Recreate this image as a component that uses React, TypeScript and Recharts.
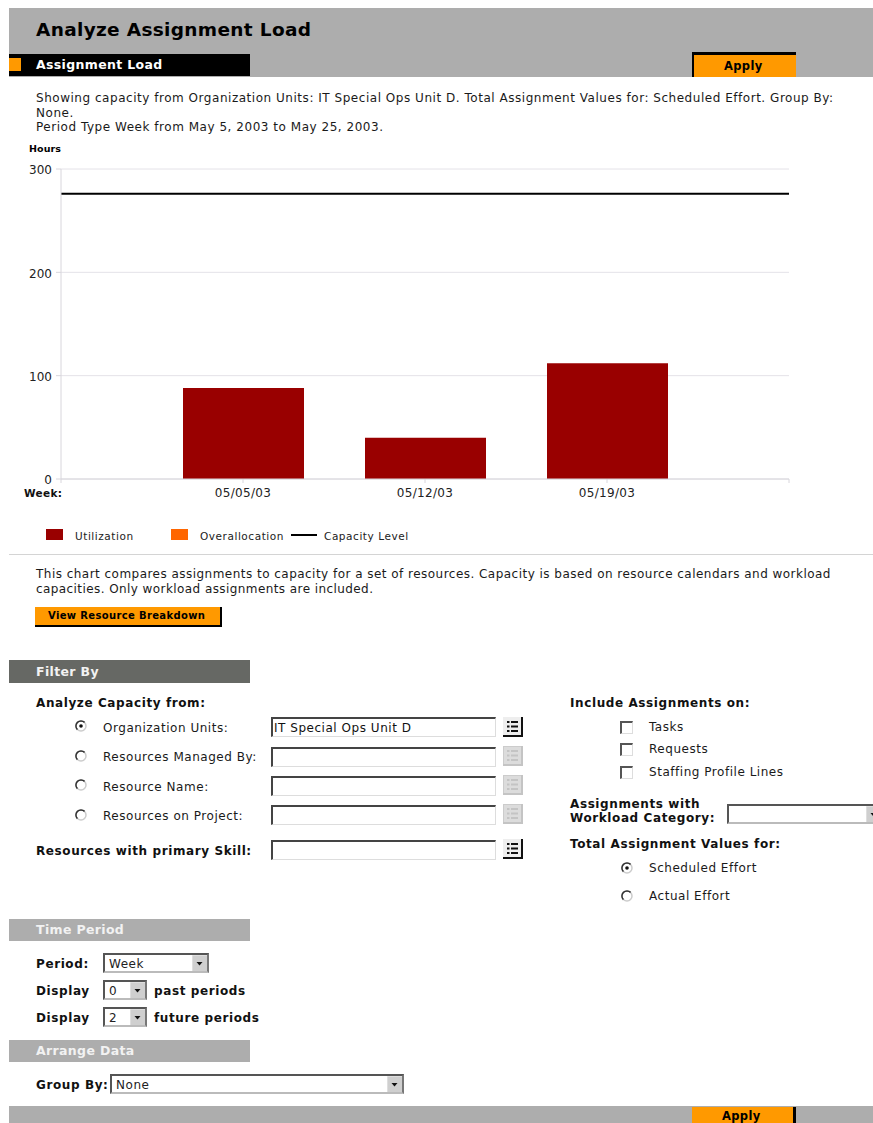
import * as React from "react"
import { ComposedChart, Bar, Line, XAxis, YAxis, CartesianGrid, Legend } from "recharts"

const weekPositions = [0, 1, 2, 3, 4]
const weekLabels = ["", "05/05/03", "05/12/03", "05/19/03", ""]
const utilization = [null, 88, 40, 112, null]
const overallocation = [null, 0, 0, 0, null]
const capacityLevel = [276, 276, 276, 276, 276]
const hourTicks = [0, 100, 200, 300]
const legendOrder = ["Utilization", "Overallocation", "Capacity Level"]

const chartData = weekPositions.map((pos, i) => ({
  pos,
  Utilization: utilization[i],
  Overallocation: overallocation[i],
  "Capacity Level": capacityLevel[i],
}))

const FONT = "'DejaVu Sans', Verdana, sans-serif"
const ORANGE = "#ff9900"
const GREY = "#adadad"
const AXIS = "#d8d6dc"

type TextProps = { x: number; y: number; bold?: boolean; size?: number; color?: string; spacing?: number; children: React.ReactNode }

// y is the vertical centre of the line of text
function T({ x, y, bold, size = 12, color = "#1a1a1a", spacing, children }: TextProps) {
  return (
    <div
      style={{
        position: "absolute",
        left: x,
        top: y - 10,
        height: 20,
        lineHeight: "20px",
        fontFamily: FONT,
        fontSize: size,
        fontWeight: bold ? 700 : 400,
        color,
        letterSpacing: spacing ?? (bold ? 0.6 : 0.53),
        whiteSpace: "nowrap",
      }}
    >
      {children}
    </div>
  )
}

function Box({ x, y, w, h, style }: { x: number; y: number; w: number; h: number; style?: React.CSSProperties }) {
  return <div style={{ position: "absolute", left: x, top: y, width: w, height: h, boxSizing: "border-box", ...style }} />
}

const sunken: React.CSSProperties = {
  background: "#fff",
  borderTop: "2px solid #444",
  borderLeft: "2px solid #444",
  borderRight: "1px solid #ddd",
  borderBottom: "1px solid #ddd",
}

function Field({ y, value }: { y: number; value?: string }) {
  return (
    <>
      <Box x={271} y={y} w={225} h={20} style={sunken} />
      {value && <T x={274} y={y + 11} color="#111">{value}</T>}
    </>
  )
}

function ListIcon({ y, off }: { y: number; off?: boolean }) {
  const ink = off ? "#c4c4c4" : "#111"
  return (
    <svg style={{ position: "absolute", left: 503, top: y }} width={20} height={20}>
      <rect x={0.5} y={0.5} width={18} height={18} fill={off ? "#dcdcdc" : "#eee"} stroke={off ? "#ccc" : "#eee"} />
      <path d="M19 0V19H0" fill="none" stroke={ink} strokeWidth={2} />
      {[5, 9.5, 14].map((ly) => (
        <path key={ly} d={`M4 ${ly}H6.5M8 ${ly}H15`} stroke={ink} strokeWidth={2} />
      ))}
    </svg>
  )
}

function Radio({ x, y, on }: { x: number; y: number; on?: boolean }) {
  return (
    <svg style={{ position: "absolute", left: x, top: y }} width={14} height={14}>
      <circle cx={7} cy={7} r={5} fill="#fff" stroke="#ccc" strokeWidth={1.5} />
      <path d="M3.4 10.6A5 5 0 0 1 10.6 3.4" fill="none" stroke="#333" strokeWidth={1.5} />
      {on && <circle cx={7} cy={7} r={1.8} fill="#111" />}
    </svg>
  )
}

function Check({ y }: { y: number }) {
  return <Box x={620} y={y} w={13} h={13} style={{ ...sunken, borderTop: "2px solid #555", borderLeft: "2px solid #555" }} />
}

function Select({ x, y, w, value }: { x: number; y: number; w: number; value?: string }) {
  return (
    <>
      <Box x={x} y={y} w={w} h={20} style={{ ...sunken, border: "2px solid #555", borderRightColor: "#777", borderBottomColor: "#bbb" }} />
      <svg style={{ position: "absolute", left: x + w - 17, top: y + 2 }} width={15} height={16}>
        <rect width={15} height={16} fill="#cfcfcf" />
        <path d="M0 16V0H15" fill="none" stroke="#eee" />
        <path d="M4.5 7H10.5L7.5 10.5Z" fill="#111" />
      </svg>
      {value && <T x={x + 6} y={y + 11} color="#222">{value}</T>}
    </>
  )
}

function Band({ y, h, color, label, labelColor }: { y: number; h: number; color: string; label: string; labelColor: string }) {
  return (
    <>
      <Box x={9} y={y} w={241} h={h} style={{ background: color }} />
      <T x={36} y={y + h / 2} bold size={12.5} color={labelColor} spacing={0.35}>{label}</T>
    </>
  )
}

// Swatches for the two bar series, a short rule for the line
function LoadLegend({ payload }: any) {
  const widths = [125, 120, 150]
  return (
    <div style={{ display: "flex", height: 16, fontFamily: FONT, fontSize: 10.5, letterSpacing: 0.55, color: "#222" }}>
      {(payload ?? []).map((item: any, i: number) => (
        <div key={item.value} style={{ display: "flex", alignItems: "center", width: widths[i] }}>
          {item.type === "line" ? (
            <span style={{ width: 26, height: 2, background: item.color, marginRight: 7, marginTop: -2 }} />
          ) : (
            <span style={{ width: 17, height: 11, background: item.color, marginRight: 12, marginTop: -4 }} />
          )}
          <span>{item.value}</span>
        </div>
      ))}
    </div>
  )
}

function LoadChart() {
  return (
    <div style={{ position: "absolute", left: 0, top: 140 }}>
      <ComposedChart
        width={873}
        height={410}
        data={chartData}
        margin={{ top: 29, right: 84, bottom: 25, left: 21 }}
      >
        <CartesianGrid vertical={false} stroke="#e4e2e8" />
        <XAxis
          dataKey="pos"
          type="number"
          domain={[0, 4]}
          ticks={weekPositions}
          tickFormatter={(pos: number) => weekLabels[pos]}
          height={30}
          stroke={AXIS}
          tickSize={4}
          interval={0}
          tick={{ fill: "#222", fontSize: 12, fontFamily: FONT, letterSpacing: 0.3, dy: 3 }}
        />
        <YAxis
          domain={[0, 300]}
          ticks={hourTicks}
          width={40}
          stroke={AXIS}
          tickSize={5}
          tick={{ fill: "#222", fontSize: 12, fontFamily: FONT, dx: -2, dy: 1 }}
        />
        <Bar dataKey="Utilization" stackId="load" fill="#990000" barSize={121} isAnimationActive={false} />
        <Bar dataKey="Overallocation" stackId="load" fill="#ff6600" barSize={121} isAnimationActive={false} />
        <Line
          dataKey="Capacity Level"
          stroke="#000"
          strokeWidth={2}
          dot={false}
          isAnimationActive={false}
        />
        <Legend
          content={<LoadLegend />}
          itemSorter={(item: any) => legendOrder.indexOf(item.value)}
          wrapperStyle={{ left: 46, top: 388, width: 420, height: 16 }}
        />
      </ComposedChart>
    </div>
  )
}

export default function App() {
  return (
    <div style={{ position: "absolute", left: 0, top: 0, width: 873, height: 1123, background: "#fff", overflow: "hidden" }}>
      {/* page header */}
      <Box x={9} y={8} w={864} h={69} style={{ background: GREY }} />
      <T x={36} y={30} bold size={18.5} color="#000" spacing={0.33}>Analyze Assignment Load</T>
      <Box x={9} y={54} w={241} h={22} style={{ background: "#000" }} />
      <Box x={9} y={58} w={12} h={13} style={{ background: ORANGE }} />
      <T x={36} y={65} bold size={12.5} color="#fff" spacing={0.35}>Assignment Load</T>
      <Box x={692} y={52} w={104} h={25} style={{ background: ORANGE, borderTop: "3px solid #000", borderLeft: "2px solid #000" }} />
      <T x={724} y={66} bold size={11.5} color="#000" spacing={0.35}>Apply</T>

      <T x={36} y={98}>Showing capacity from Organization Units: IT Special Ops Unit D. Total Assignment Values for: Scheduled Effort. Group By:</T>
      <T x={36} y={113}>None.</T>
      <T x={36} y={127}>Period Type Week from May 5, 2003 to May 25, 2003.</T>

      <T x={29} y={149} bold size={9.5} color="#000" spacing={0.1}>Hours</T>
      <LoadChart />
      <T x={24} y={493} bold size={10.5} color="#111" spacing={0.35}>Week:</T>

      <Box x={9} y={554} w={864} h={1} style={{ background: "#d4d4d4" }} />
      <T x={36} y={574} spacing={0.47}>This chart compares assignments to capacity for a set of resources. Capacity is based on resource calendars and workload</T>
      <T x={36} y={589} spacing={0.42}>capacities. Only workload assignments are included.</T>
      <Box x={35} y={607} w={187} h={20} style={{ background: ORANGE, borderRight: "2px solid #000", borderBottom: "2px solid #000" }} />
      <T x={48} y={616} bold size={10} color="#000" spacing={0.35}>View Resource Breakdown</T>

      {/* filters, left column */}
      <Band y={660} h={23} color="#666864" label="Filter By" labelColor="#f2f2f2" />
      <T x={36} y={703} bold color="#111">Analyze Capacity from:</T>
      <Radio x={74} y={719} on />
      <T x={103} y={728}>Organization Units:</T>
      <Field y={717} value="IT Special Ops Unit D" />
      <ListIcon y={717} />
      <Radio x={74} y={749} />
      <T x={103} y={757}>Resources Managed By:</T>
      <Field y={747} />
      <ListIcon y={746} off />
      <Radio x={74} y={778} />
      <T x={103} y={787}>Resource Name:</T>
      <Field y={776} />
      <ListIcon y={775} off />
      <Radio x={74} y={808} />
      <T x={103} y={816}>Resources on Project:</T>
      <Field y={805} />
      <ListIcon y={804} off />
      <T x={36} y={851} bold color="#111">Resources with primary Skill:</T>
      <Field y={840} />
      <ListIcon y={839} />

      {/* filters, right column */}
      <T x={570} y={703} bold color="#111">Include Assignments on:</T>
      <Check y={721} />
      <T x={649} y={727}>Tasks</T>
      <Check y={743} />
      <T x={649} y={749}>Requests</T>
      <Check y={766} />
      <T x={649} y={772}>Staffing Profile Lines</T>
      <T x={570} y={804} bold color="#111">Assignments with</T>
      <T x={570} y={818} bold color="#111">Workload Category:</T>
      <Select x={727} y={804} w={156} />
      <T x={570} y={844} bold color="#111">Total Assignment Values for:</T>
      <Radio x={620} y={861} on />
      <T x={649} y={868}>Scheduled Effort</T>
      <Radio x={620} y={889} />
      <T x={649} y={896}>Actual Effort</T>

      {/* time period and grouping */}
      <Band y={919} h={22} color={GREY} label="Time Period" labelColor="#f2f2f2" />
      <T x={36} y={964} bold color="#111">Period:</T>
      <Select x={103} y={953} w={106} value="Week" />
      <T x={36} y={991} bold color="#111">Display</T>
      <Select x={103} y={980} w={44} value="0" />
      <T x={154} y={991} bold color="#111">past periods</T>
      <T x={36} y={1018} bold color="#111">Display</T>
      <Select x={103} y={1007} w={44} value="2" />
      <T x={154} y={1018} bold color="#111">future periods</T>
      <Band y={1040} h={22} color={GREY} label="Arrange Data" labelColor="#f2f2f2" />
      <T x={36} y={1085} bold color="#111">Group By:</T>
      <Select x={110} y={1074} w={294} value="None" />

      <Box x={9} y={1106} w={864} h={17} style={{ background: GREY }} />
      <Box x={692} y={1107} w={104} h={16} style={{ background: ORANGE, borderRight: "3px solid #000" }} />
      <T x={722} y={1116} bold size={11.5} color="#000" spacing={0.35}>Apply</T>
    </div>
  )
}
